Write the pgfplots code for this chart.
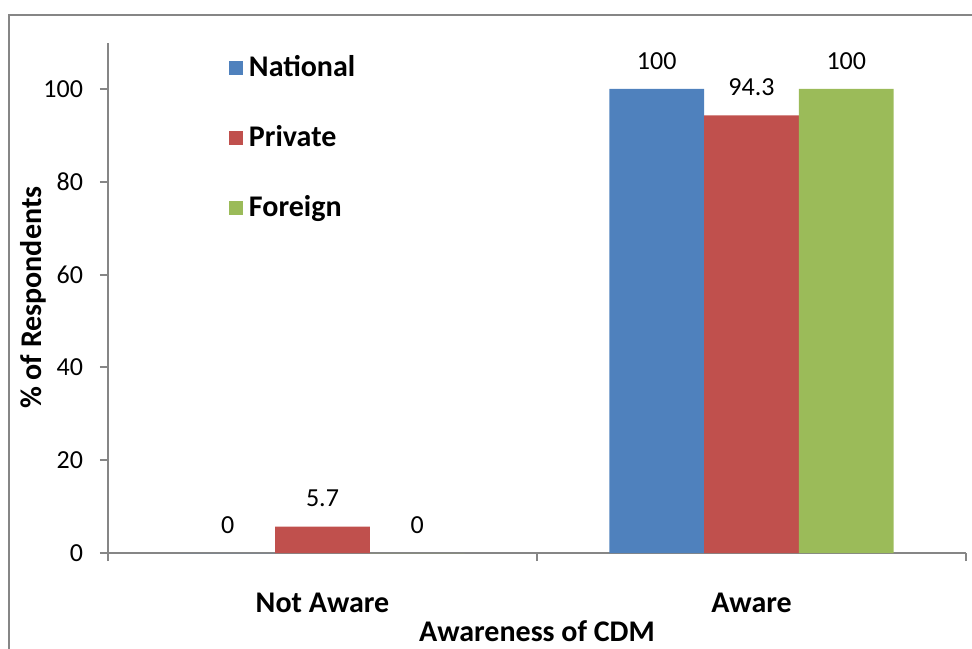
\documentclass[border=0pt]{standalone}
\usepackage{fontspec}
\setmainfont{Carlito}
\usepackage{pgfplots}
\pgfplotsset{compat=1.18}
\definecolor{natblue}{RGB}{79,129,189}
\definecolor{privred}{RGB}{192,80,77}
\definecolor{forgreen}{RGB}{155,187,89}
\definecolor{framegray}{RGB}{134,134,134}

\pgfplotsset{
  sqbar/.style={
    fill=#1, draw=none,
    legend image code/.code={\fill[##1] (0pt,-2.8pt) rectangle (7pt,4.2pt);},
  },
}

\begin{document}
\begin{tikzpicture}
\useasboundingbox (0,0) rectangle (486pt,324pt);
% chart area frame
\draw[framegray, line width=1pt] (4.5pt,-5pt) rectangle (495pt,316.5pt);
\begin{axis}[
  at={(54pt,47.5pt)}, anchor=south west,
  scale only axis, width=429pt, height=255.2pt,
  ybar=0pt, bar width=47.4pt,
  xmin=-0.5, xmax=1.5, ymin=0, ymax=110,
  xtick={0,1}, xticklabels={Not Aware, Aware},
  minor xtick={-0.5,0.5,1.5},
  ytick={0,20,...,100},
  axis x line*=bottom, axis y line*=left,
  axis line style={framegray, line width=1pt, -},
  tick align=outside,
  major tick length=4pt, minor tick length=4pt,
  tick style={framegray, line width=1pt},
  major x tick style={draw=none},
  /pgf/number format/assume math mode=true,
  ticklabel style={font=\fontsize{13}{15}\selectfont, text=black},
  yticklabel style={xshift=-5pt},
  xticklabel style={font=\bfseries\fontsize{15}{18}\selectfont, yshift=-12.5pt},
  xlabel={Awareness of CDM},
  ylabel={\% of Respondents},
  label style={font=\bfseries\fontsize{15}{18}\selectfont},
  xlabel style={at={(axis description cs:0.5,-0.154)}, anchor=center,
    inner sep=0pt, outer sep=0pt},
  ylabel style={at={(axis description cs:-0.0874,0.5)}, anchor=center},
  nodes near coords,
  every node near coord/.append style={anchor=center, yshift=14pt,
    font=\fontsize{13}{15}\selectfont, text=black},
  legend style={at={(axis description cs:0.141,0.9726)}, anchor=north west,
    draw=none, fill=none, inner sep=0pt, outer sep=0pt,
    font=\bfseries\fontsize{15}{18}\selectfont,
    row sep=22pt, column sep=3pt,
    nodes={inner sep=0pt, text height=10pt, text depth=3pt}},
  legend cell align=left,
]
\addplot[sqbar=natblue] coordinates {(0,0) (1,100)};
\addplot[sqbar=privred] coordinates {(0,5.7) (1,94.3)};
\addplot[sqbar=forgreen] coordinates {(0,0) (1,100)};
\legend{National, Private, Foreign}
\end{axis}
\end{tikzpicture}
\end{document}
